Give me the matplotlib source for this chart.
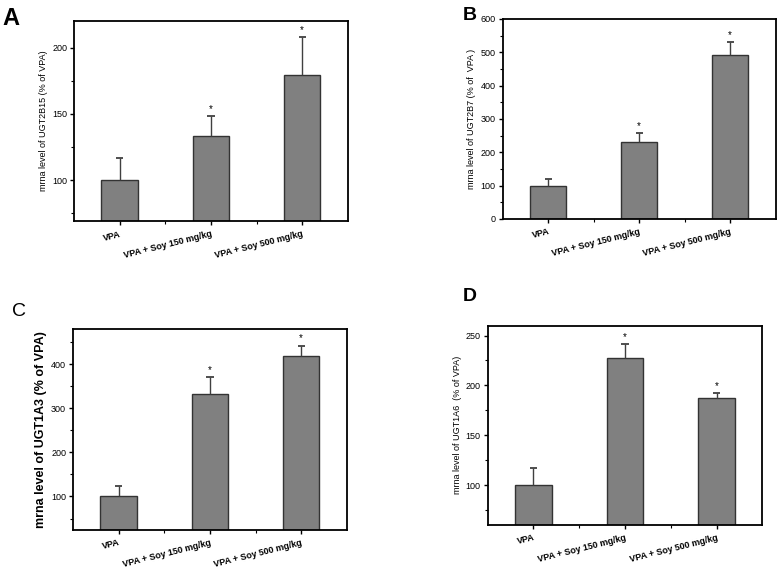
import numpy as np
from matplotlib import pyplot as plt
from matplotlib.ticker import MultipleLocator

plt.rcParams['font.family'] = ['Liberation Sans', 'DejaVu Sans']

groups = ["VPA", "VPA + Soy 150 mg/kg", "VPA + Soy 500 mg/kg"]

# mean and upper error (SD) for each gene, % of VPA
ugt2b15 = [100, 133.5, 179]
ugt2b15_err = [16.5, 14.5, 29]
ugt2b7 = [99, 230, 492]
ugt2b7_err = [22, 28, 38]
ugt1a3 = [100, 333, 419]
ugt1a3_err = [23.5, 38, 23]
ugt1a6 = [100, 227.5, 187.5]
ugt1a6_err = [17.5, 13.5, 5]

signif = [False, True, True]

panels = [
    # letter, values, errors, ylabel, ylim, major, axes rect, label pos, label size/weight, ylabel size/weight
    ("A", ugt2b15, ugt2b15_err, "mrna level of UGT2B15 (% of VPA)", (69, 220), 50,
     [0.0949, 0.612, 0.351, 0.351], (0.003, 0.988), 17, "bold", 6.5, "normal"),
    ("B", ugt2b7, ugt2b7_err, "mrna level of UGT2B7 (% of  VPA )", (0, 600), 100,
     [0.6445, 0.6158, 0.350, 0.351], (0.593, 0.988), 14, "bold", 6.5, "normal"),
    ("C", ugt1a3, ugt1a3_err, "mrna level of UGT1A3 (% of VPA)", (24, 480), 100,
     [0.0936, 0.0702, 0.351, 0.353], (0.015, 0.468), 14, "normal", 9, "bold"),
    ("D", ugt1a6, ugt1a6_err, "mrna level of UGT1A6  (% of VPA)", (60, 260), 50,
     [0.6253, 0.0789, 0.352, 0.350], (0.593, 0.495), 14, "bold", 6.5, "normal"),
]

fig = plt.figure(figsize=(7.8, 5.7), dpi=100)

for letter, vals, errs, ylab, ylim, major, rect, lpos, lsize, lweight, ysize, yweight in panels:
    ax = fig.add_axes(rect)
    x = np.arange(len(groups))
    tops = np.array(vals) + np.array(errs)
    ax.bar(x, vals, width=0.4, color="#808080", edgecolor="#333333", linewidth=1.0, zorder=2)
    # one-sided error bars: stem up from the bar top, cap at the end
    ax.vlines(x, vals, tops, color="#404040", linewidth=1.0, zorder=3)
    ax.hlines(tops, x - 0.04, x + 0.04, color="#404040", linewidth=1.3, zorder=3)
    span = ylim[1] - ylim[0]
    for xi, t, s in zip(x, tops, signif):
        if s:
            ax.text(xi, t + span * 0.01, "*", ha="center", va="bottom", fontsize=7)
    ax.set_xlim(-0.5, 2.5)
    ax.set_ylim(*ylim)
    ax.set_xticks(x)
    ax.set_xticks([0.5, 1.5], minor=True)
    ax.set_xticklabels(groups, rotation=14, ha="right", rotation_mode="anchor",
                       fontsize=6, fontweight="bold")
    ax.yaxis.set_major_locator(MultipleLocator(major))
    ax.yaxis.set_minor_locator(MultipleLocator(major / 2))
    ax.tick_params(axis="both", which="major", direction="out", length=3, width=1,
                   labelsize=6.5, pad=2)
    ax.tick_params(axis="x", which="major", pad=3)
    ax.tick_params(axis="both", which="minor", direction="out", length=2, width=0.8)
    for sp in ax.spines.values():
        sp.set_linewidth(1.3)
    ax.set_ylabel(ylab, fontsize=ysize, fontweight=yweight, labelpad=3)
    fig.text(lpos[0], lpos[1], letter, fontsize=lsize, fontweight=lweight,
             ha="left", va="top")

fig.savefig("out.png", dpi=100)
